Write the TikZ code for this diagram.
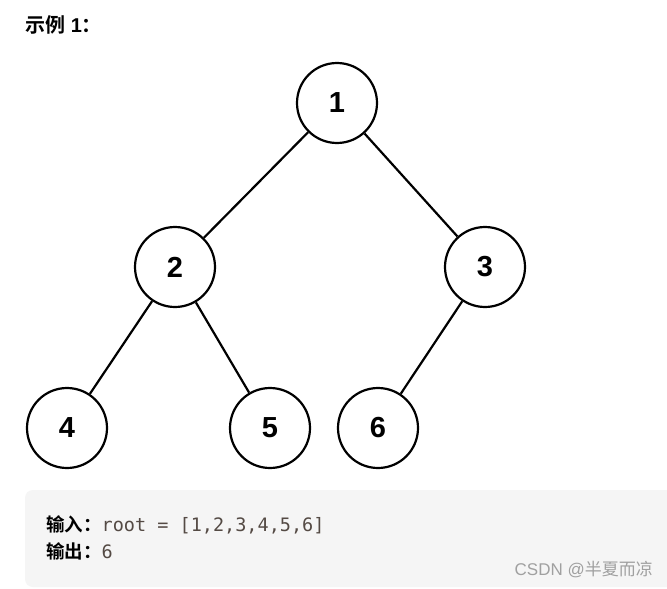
\documentclass[tikz,border=0pt]{standalone}
\usepackage{fontspec}
\setmainfont{Liberation Sans}
\setmonofont{DejaVu Sans Mono}
\newfontfamily\cjk{Noto Sans CJK SC}
\newfontfamily\cjkb{Noto Sans CJK SC Bold}
\definecolor{boxbg}{HTML}{F5F5F5}
\definecolor{codecol}{HTML}{544A44}
\definecolor{wm}{HTML}{A0A0A0}
\begin{document}
\begin{tikzpicture}[x=1pt,y=-1pt,
  tnode/.style={circle,draw=black,line width=2.2pt,minimum size=80pt,inner sep=0pt,fill=white,font=\fontsize{29}{30}\selectfont\bfseries},
  tedge/.style={line width=2.2pt,black}]
\useasboundingbox (0,0) rectangle (667,589);
\fill[white] (0,0) rectangle (667,589);
\node[anchor=west,inner sep=0pt,font=\fontsize{20}{22}\selectfont] (title) at (25,25) {{\cjkb 示例} \textbf{1}{\cjkb ：}};
\node[tnode] (n1) at (337,103) {1};
\node[tnode] (n2) at (175,267) {2};
\node[tnode] (n3) at (485,267) {3};
\node[tnode] (n4) at (67,428) {4};
\node[tnode] (n5) at (270,428) {5};
\node[tnode] (n6) at (378,428) {6};
\draw[tedge] (n1) -- (n2);
\draw[tedge] (n1) -- (n3);
\draw[tedge] (n2) -- (n4);
\draw[tedge] (n2) -- (n5);
\draw[tedge] (n3) -- (n6);
\fill[boxbg,rounded corners=8pt] (25,490) rectangle (680,587);
\node[anchor=west,inner sep=0pt,font=\fontsize{18.5}{20}\selectfont] (in) at (46,525) {{\cjkb 输入：}\textcolor{codecol}{\ttfamily root = [1,2,3,4,5,6]}};
\node[anchor=west,inner sep=0pt,font=\fontsize{18.5}{20}\selectfont] (out) at (46,551) {{\cjkb 输出：}\textcolor{codecol}{\ttfamily 6}};
\node[anchor=east,inner sep=0pt,text=wm,font=\fontsize{17}{18}\selectfont] (wmk) at (653,570) {CSDN @{\cjk 半夏而凉}};
\end{tikzpicture}
\end{document}
